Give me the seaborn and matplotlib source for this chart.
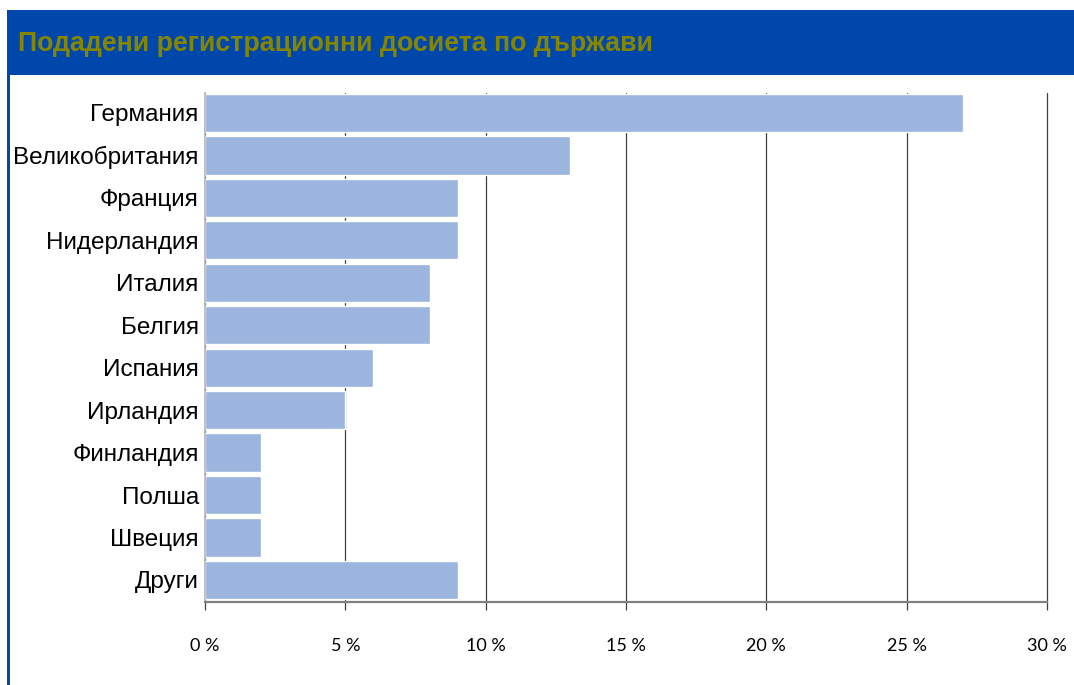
import matplotlib
matplotlib.use("Agg")
import matplotlib.pyplot as plt
import seaborn as sns
import pandas as pd
from matplotlib.patches import Rectangle
from matplotlib.ticker import FuncFormatter

countries = ["Германия", "Великобритания", "Франция", "Нидерландия", "Италия", "Белгия",
             "Испания", "Ирландия", "Финландия", "Полша", "Швеция", "Други"]
shares = [27, 13, 9, 9, 8, 8, 6, 5, 2, 2, 2, 9]
xticks = [0, 5, 10, 15, 20, 25, 30]
title = "Подадени регистрационни досиета по държави"

df = pd.DataFrame({"country": countries, "share": shares})

sns.set_style("white")
plt.rcParams["font.family"] = ["Liberation Sans", "DejaVu Sans"]

fig = plt.figure(figsize=(10.74, 6.85), dpi=100)
W, H = 1074, 685

# header band and left border
fig.patches.append(Rectangle((7 / W, 1 - 75 / H), 1 - 7 / W, 65 / H, transform=fig.transFigure,
                             facecolor="#0047ab", edgecolor="none", zorder=0))
fig.patches.append(Rectangle((7 / W, 0), 2.5 / W, 1 - 10 / H, transform=fig.transFigure,
                             facecolor="#0047ab", edgecolor="none", zorder=0))
fig.text(18 / W, 1 - 44 / H, title, color="#858500", fontsize=19.3, fontweight="bold",
         va="center", ha="left", family=["Liberation Sans", "DejaVu Sans"])

ax = fig.add_axes([205 / W, 1 - 602 / H, 842 / W, 509 / H])
sns.barplot(data=df, y="country", x="share", orient="h", color="#9bb5de", width=0.9,
            saturation=1, ax=ax)

ax.set_xlim(0, 30)
ax.set_ylim(11.52, -0.47)
ax.set_xticks(xticks)
ax.xaxis.set_major_formatter(FuncFormatter(lambda v, p: f"{v:.0f} %"))
ax.set_xlabel("")
ax.set_ylabel("")
ax.grid(axis="x", color="#404040", linewidth=0.9)
for gl in ax.get_xgridlines():
    gl.set_clip_on(False)
ax.set_axisbelow(True)
for s in ["top", "right"]:
    ax.spines[s].set_visible(False)
ax.spines["left"].set_color("#b8b8b8")
ax.spines["left"].set_linewidth(1.2)
ax.spines["bottom"].set_color("#808080")
ax.spines["bottom"].set_linewidth(1.6)
ax.tick_params(axis="x", bottom=True, length=6, width=0.9, color="#404040", pad=20)
ax.tick_params(axis="y", left=False, pad=1)
for lab in ax.get_yticklabels():
    lab.set_fontfamily(["Liberation Sans", "DejaVu Sans"])
    lab.set_fontsize(17.5)
    lab.set_color("black")
for lab in ax.get_xticklabels():
    lab.set_fontfamily(["Lato", "DejaVu Sans"])
    lab.set_fontsize(13)
    lab.set_color("black")

fig.savefig("out.png", dpi=100, facecolor="white")
